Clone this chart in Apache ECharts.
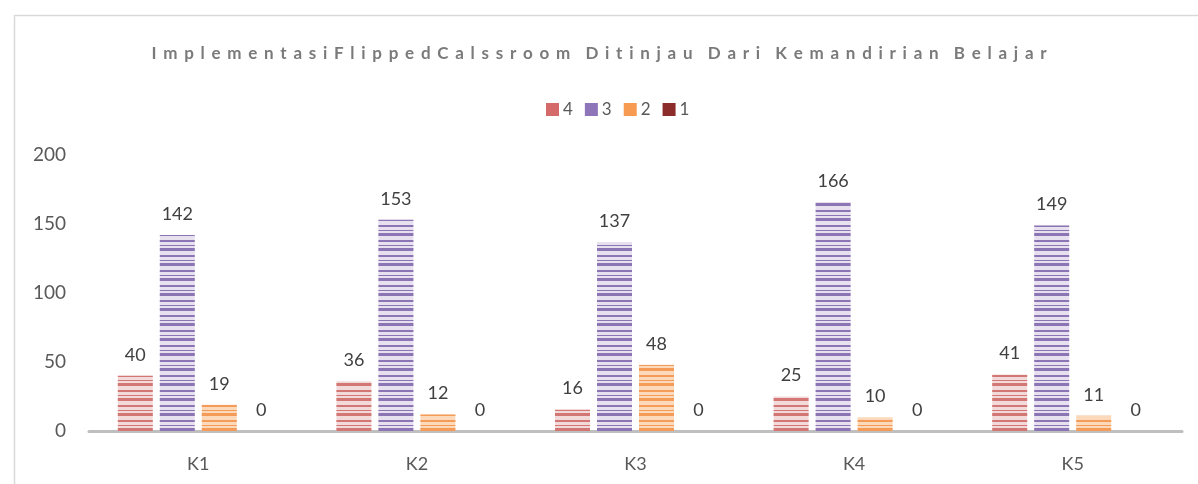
<!DOCTYPE html>
<html>
<head>
<meta charset="utf-8">
<script src="https://cdn.jsdelivr.net/npm/echarts@6/dist/echarts.min.js"></script>
<style>
html,body{margin:0;padding:0;background:#fff;}
#chart{width:1198px;height:484px;}
</style>
</head>
<body>
<div id="chart"></div>
<script>
const titleWords1 = ['Implementasi', 'Flipped', 'Calssroom'];
const titleWords2 = ['Ditinjau', 'Dari', 'Kemandirian', 'Belajar'];
const categories = ['K1', 'K2', 'K3', 'K4', 'K5'];
const seriesNames = ['4', '3', '2', '1'];
const values4 = [40, 36, 16, 25, 41];
const values3 = [142, 153, 137, 166, 149];
const values2 = [19, 12, 48, 10, 11];
const values1 = [0, 0, 0, 0, 0];
const yTicks = [0, 50, 100, 150, 200];

const SP = '\u2004\u200A';
const WG = SP + '\u2002';
function spaced(w) { return w.split('').join(SP); }
const titleText = titleWords1.map(spaced).join(SP) + WG + titleWords2.map(spaced).join(WG);

const baseColors = ['#f3dada', '#e6e0ef', '#fcd9ba', '#8c2d2b'];
const stripeColors = ['rgba(200,85,82,0.75)', 'rgba(118,90,165,0.8)', 'rgba(242,135,55,0.75)', 'rgba(110,30,30,0.9)'];
const legendColors = ['#d46a6a', '#8e74b8', '#f79a52', '#8c2d2b'];
const allValues = [values4, values3, values2, values1];

const chart = echarts.init(document.getElementById('chart'));
chart.setOption({
  animation: false,
  backgroundColor: '#ffffff',
  graphic: [{
    type: 'rect', left: 12, top: 13, silent: true,
    shape: { width: 1300, height: 600 },
    style: { fill: 'none', stroke: '#d9d9d9', lineWidth: 1.5 }
  }],
  title: {
    text: titleText,
    left: 'center', top: 40,
    textStyle: { fontFamily: 'Lato', fontWeight: 'bold', fontSize: 17, color: '#7a7a7a' }
  },
  legend: {
    top: 96, left: 541,
    itemWidth: 13, itemHeight: 13, itemGap: 12,
    icon: 'rect',
    textStyle: { fontFamily: 'Lato', fontSize: 17, color: '#595959', padding: [0, 0, 0, -1] },
    data: seriesNames.map((n, i) => ({ name: n, itemStyle: { color: legendColors[i], decal: 'none' } }))
  },
  grid: { left: 89, right: 16, top: 155, bottom: 53, containLabel: false },
  xAxis: {
    type: 'category', data: categories,
    axisLine: { lineStyle: { color: '#bfbfbf', width: 3 } },
    axisTick: { show: false },
    axisLabel: { fontFamily: 'Lato', fontSize: 18, color: '#595959', margin: 24 }
  },
  yAxis: {
    type: 'value', min: 0, max: yTicks[yTicks.length - 1], interval: yTicks[1] - yTicks[0],
    axisLine: { show: false }, axisTick: { show: false }, splitLine: { show: false },
    axisLabel: { fontFamily: 'Lato', fontSize: 19, color: '#595959', margin: 23 }
  },
  series: seriesNames.map((n, i) => ({
    name: n, type: 'bar', data: allValues[i],
    barWidth: 35, barGap: '20%', barCategoryGap: '26%',
    itemStyle: {
      color: baseColors[i],
      decal: {
        symbol: 'rect', symbolSize: 1, color: stripeColors[i],
        dashArrayX: [1, 0], dashArrayY: [2, 3, 1, 2, 3, 4], rotation: 0
      }
    },
    label: { show: true, position: 'top', distance: 12, fontFamily: 'Lato', fontSize: 18, color: '#404040' }
  }))
});
</script>
</body>
</html>
